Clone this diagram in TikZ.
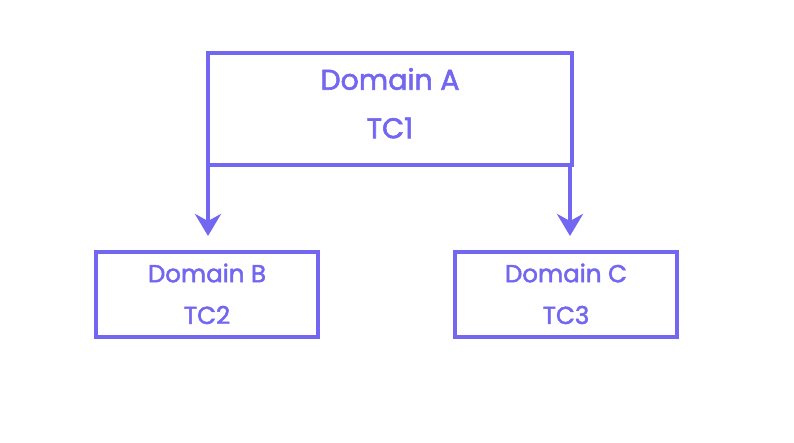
\documentclass[tikz,border=0pt]{standalone}
\usepackage{fontspec}
\setmainfont{Poppins}[FakeBold=2]
\usetikzlibrary{arrows.meta}
\definecolor{vi}{RGB}{115,102,240}
\tikzset{
  box/.style={draw=vi, line width=4pt, inner sep=0pt},
  lbl/.style={text=vi, inner sep=0pt, anchor=center},
  conn/.style={draw=vi, line width=4pt, -{Stealth[width=26pt,length=22pt,inset=7pt]}}
}
\begin{document}
\begin{tikzpicture}[x=1pt,y=-1pt]
\useasboundingbox[fill=white] (0,0) rectangle (794,442);
\node[box, minimum width=364pt, minimum height=112pt] (A) at (390,109) {};
\node[box, minimum width=222pt, minimum height=85pt] (B) at (207,294.5) {};
\node[box, minimum width=222pt, minimum height=85pt] (C) at (566,294.5) {};
\node[lbl, font=\fontsize{28.5}{33}\selectfont] (a1) at (390,79) {Domain A};
\node[lbl, font=\fontsize{28.5}{33}\selectfont] (a2) at (390,128) {TC1};
\node[lbl, font=\fontsize{24.5}{29}\selectfont] (b1) at (207,273) {Domain B};
\node[lbl, font=\fontsize{24.5}{29}\selectfont] (b2) at (207,315) {TC2};
\node[lbl, font=\fontsize{24.5}{29}\selectfont] (c1) at (566,273) {Domain C};
\node[lbl, font=\fontsize{24.5}{29}\selectfont] (c2) at (566,315) {TC3};
\coordinate (tb) at (208,236);
\coordinate (tc) at (570,236);
\draw[conn] (A.south west -| tb) ++(0,-2) -- (tb);
\draw[conn] (A.south west -| tc) ++(0,-2) -- (tc);
\end{tikzpicture}
\end{document}
